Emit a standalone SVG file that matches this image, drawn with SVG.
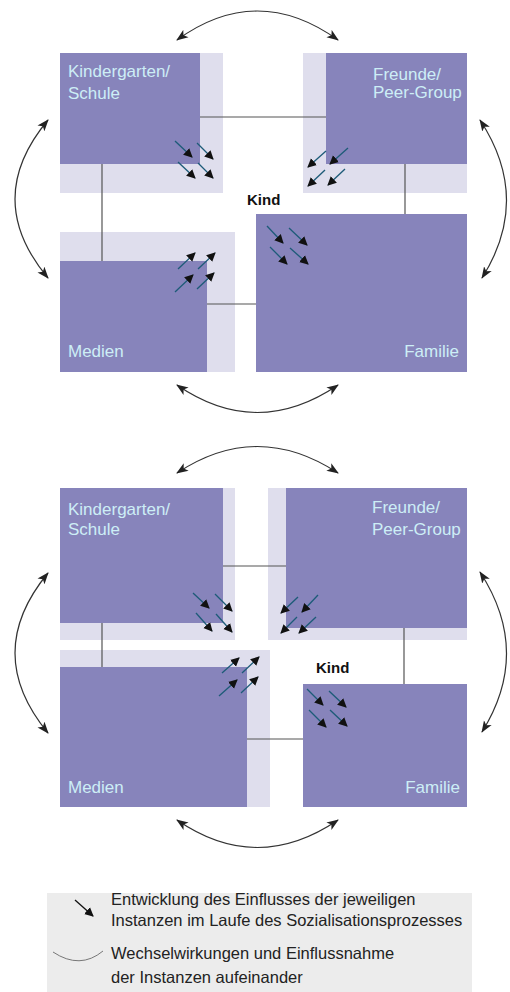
<svg xmlns="http://www.w3.org/2000/svg" width="510" height="992" viewBox="0 0 510 992">
<style>
.dark{fill:#8784bb}
.light{fill:#dfdeed}
.lbl{font-family:"Liberation Sans",Arial,sans-serif;font-size:17px;fill:#cdeef6}
.kind{font-family:"Liberation Sans",Arial,sans-serif;font-size:15px;font-weight:bold;fill:#111}
.con{stroke:#555;stroke-width:1.2;fill:none}
.arc{stroke:#333;stroke-width:1.2;fill:none;marker-start:url(#ah);marker-end:url(#ah)}
.sa{stroke:#1d5b78;stroke-width:1.3;fill:none;marker-end:url(#sh)}
.leg{font-family:"Liberation Sans",Arial,sans-serif;font-size:16.5px;fill:#222}
</style>
<defs>
<marker id="ah" markerUnits="userSpaceOnUse" markerWidth="14" markerHeight="10" refX="11" refY="5" orient="auto-start-reverse">
<path d="M0,0.5 L12,5 L0,9.5 L3,5 Z" fill="#222"/>
</marker>
<marker id="sh" markerUnits="userSpaceOnUse" markerWidth="10" markerHeight="10" refX="8" refY="5" orient="auto">
<path d="M0,0.5 L9,5 L0,9.5 Z" fill="#111"/>
</marker>
</defs>
<rect width="510" height="992" fill="#ffffff"/>

<!-- TOP DIAGRAM -->
<g id="top-kindergarten">
<rect class="light" x="60" y="53" width="163" height="140"/>
<rect class="dark" x="60" y="53" width="140" height="111"/>
<text class="lbl" x="68" y="77">Kindergarten/</text>
<text class="lbl" x="68" y="99">Schule</text>
</g>
<g id="top-freunde">
<rect class="light" x="303" y="53" width="164" height="140"/>
<rect class="dark" x="326" y="53" width="141" height="111"/>
<text class="lbl" x="373" y="80">Freunde/</text>
<text class="lbl" x="373" y="98">Peer-Group</text>
</g>
<g id="top-medien">
<rect class="light" x="60" y="232" width="175" height="140"/>
<rect class="dark" x="60" y="261" width="147" height="111"/>
<text class="lbl" x="68" y="357">Medien</text>
</g>
<g id="top-familie">
<rect class="dark" x="256" y="214" width="211" height="158"/>
<text class="lbl" x="459" y="357" text-anchor="end">Familie</text>
</g>
<g id="top-kind">
<text class="kind" x="247" y="205">Kind</text>
</g>
<g id="top-connectors">
<path class="con" d="M200 117 H326 M102 164 V261 M405 164 V214 M207 304 H256"/>
<path class="arc" d="M177 40 Q257 -18 338 40"/>
<path class="arc" d="M48 120 Q-18 199 48 278"/>
<path class="arc" d="M480 120 Q532 199 482 278"/>
<path class="arc" d="M177 385 Q257 440 338 385"/>
<path class="sa" d="M175 141 L192 157"/>
<path class="sa" d="M197 143 L213 159"/>
<path class="sa" d="M178 162 L195 178"/>
<path class="sa" d="M198 163 L213 178"/>
<path class="sa" d="M326 151 L308 167"/>
<path class="sa" d="M348 148 L330 164"/>
<path class="sa" d="M325 170 L308 186"/>
<path class="sa" d="M345 169 L328 185"/>
<path class="sa" d="M178 269 L195 253"/>
<path class="sa" d="M198 269 L215 253"/>
<path class="sa" d="M175 292 L193 275"/>
<path class="sa" d="M197 289 L214 273"/>
<path class="sa" d="M267 226 L283 243"/>
<path class="sa" d="M289 228 L307 245"/>
<path class="sa" d="M270 247 L287 264"/>
<path class="sa" d="M290 248 L308 264"/>
</g>

<!-- BOTTOM DIAGRAM -->
<g id="bottom-kindergarten">
<rect class="light" x="60" y="488" width="175" height="152"/>
<rect class="dark" x="60" y="488" width="163" height="135"/>
<text class="lbl" x="68" y="515">Kindergarten/</text>
<text class="lbl" x="68" y="535">Schule</text>
</g>
<g id="bottom-freunde">
<rect class="light" x="268" y="488" width="199" height="152"/>
<rect class="dark" x="286" y="488" width="181" height="140"/>
<text class="lbl" x="372" y="513">Freunde/</text>
<text class="lbl" x="372" y="535">Peer-Group</text>
</g>
<g id="bottom-medien">
<rect class="light" x="60" y="650" width="210" height="157"/>
<rect class="dark" x="60" y="667" width="187" height="140"/>
<text class="lbl" x="68" y="793">Medien</text>
</g>
<g id="bottom-familie">
<rect class="dark" x="303" y="684" width="164" height="123"/>
<text class="lbl" x="460" y="793" text-anchor="end">Familie</text>
</g>
<g id="bottom-kind">
<text class="kind" x="316" y="673">Kind</text>
</g>
<g id="bottom-connectors">
<path class="con" d="M223 566 H286 M102 623 V667 M404 628 V684 M247 739 H303"/>
<path class="arc" d="M177 473 Q257 420 338 473"/>
<path class="arc" d="M48 573 Q-18 653 48 733"/>
<path class="arc" d="M480 572 Q532 652 482 732"/>
<path class="arc" d="M177 820 Q257 875 338 820"/>
<path class="sa" d="M193 593 L209 608"/>
<path class="sa" d="M215 594 L232 611"/>
<path class="sa" d="M196 613 L212 631"/>
<path class="sa" d="M216 614 L232 632"/>
<path class="sa" d="M298 597 L281 613"/>
<path class="sa" d="M318 595 L302 612"/>
<path class="sa" d="M297 617 L281 633"/>
<path class="sa" d="M316 617 L299 633"/>
<path class="sa" d="M222 673 L239 658"/>
<path class="sa" d="M242 673 L259 657"/>
<path class="sa" d="M219 696 L237 680"/>
<path class="sa" d="M241 693 L258 677"/>
<path class="sa" d="M307 689 L323 705"/>
<path class="sa" d="M329 691 L346 707"/>
<path class="sa" d="M309 710 L326 727"/>
<path class="sa" d="M330 710 L347 726"/>
</g>

<!-- LEGEND -->
<g id="legend">
<rect x="47" y="893" width="425" height="99" fill="#ececec"/>
<path class="sa" d="M75 900 L93 916" style="stroke:#111"/>
<path d="M53 952 Q80 970 103 951" fill="none" stroke="#777" stroke-width="1"/>
<text class="leg" x="111" y="905">Entwicklung des Einflusses der jeweiligen</text>
<text class="leg" x="111" y="926">Instanzen im Laufe des Sozialisationsprozesses</text>
<text class="leg" x="111" y="959">Wechselwirkungen und Einflussnahme</text>
<text class="leg" x="111" y="983">der Instanzen aufeinander</text>
</g>
</svg>
